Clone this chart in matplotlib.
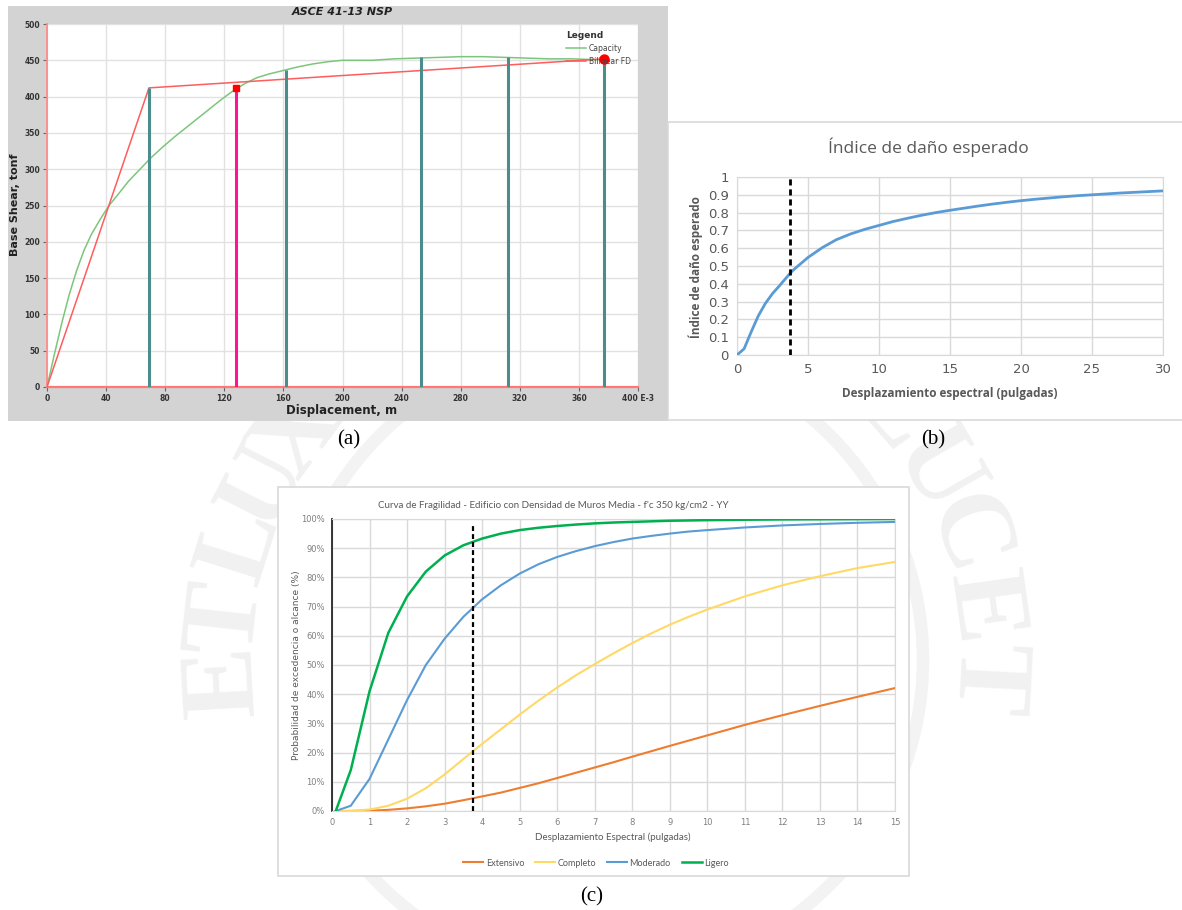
import matplotlib
matplotlib.use("Agg")
import matplotlib.pyplot as plt
from matplotlib.patches import Rectangle, Circle
import numpy as np

# ---------------- data ----------------
# (a) pushover: capacity curve, bilinear idealisation, performance markers
cap_x = [0, 5, 10, 15, 20, 25, 30, 36, 42, 48, 55, 62, 70, 78, 86, 94, 102, 110, 118, 126,
         134, 142, 150, 160, 170, 180, 190, 200, 210, 220, 235, 250, 265, 280, 295, 310,
         325, 340, 355, 370, 377]
cap_y = [0, 45, 88, 127, 160, 188, 210, 231, 250, 265, 283, 298, 315, 330, 344, 357, 370,
         383, 396, 408, 418, 426, 431, 436, 441, 445, 448, 450, 450, 450, 452, 453, 454,
         455, 455, 454, 453, 452, 452, 451, 451]
bil_x = [0, 69, 377]
bil_y = [0, 412, 452]
step_x = [69, 162, 253, 312, 377]
step_y = [412, 437, 454, 455, 452]
perf_x = 128
perf_y = 412
target_x = 377
target_y = 452
a_xticks = [0, 40, 80, 120, 160, 200, 240, 280, 320, 360, 400]
a_xlabels = ["0", "40", "80", "120", "160", "200", "240", "280", "320", "360", "400 E-3"]
a_yticks = [0, 50, 100, 150, 200, 250, 300, 350, 400, 450, 500]

# (b) expected damage index
b_x = [0, 0.5, 1, 1.5, 2, 2.5, 3, 3.75, 4, 5, 6, 7, 8, 9, 10, 11, 12, 13, 14, 15,
       16, 17, 18, 19, 20, 21, 22, 23, 24, 25, 26, 27, 28, 29, 30]
b_y = [0, 0.035, 0.13, 0.22, 0.29, 0.345, 0.39, 0.46, 0.48, 0.548, 0.603, 0.648, 0.68,
       0.706, 0.728, 0.75, 0.768, 0.785, 0.8, 0.813, 0.825, 0.837, 0.848, 0.858, 0.867,
       0.875, 0.882, 0.889, 0.895, 0.9, 0.905, 0.91, 0.914, 0.918, 0.922]
b_yticks = [0, 0.1, 0.2, 0.3, 0.4, 0.5, 0.6, 0.7, 0.8, 0.9, 1]
b_ylabels = ["0", "0.1", "0.2", "0.3", "0.4", "0.5", "0.6", "0.7", "0.8", "0.9", "1"]
b_xticks = [0, 5, 10, 15, 20, 25, 30]
demand_sd = 3.75

# (c) fragility curves (probability of exceedance, %)
ext_x = [0.1, 0.5, 1, 1.5, 2, 2.5, 3, 3.5, 4, 4.5, 5, 5.5, 6, 6.5, 7, 7.5, 8, 9, 10, 11, 12, 13, 14, 15]
ext_y = [0, 0, 0.1, 0.4, 0.9, 1.6, 2.5, 3.7, 5, 6.3, 7.9, 9.5, 11.3, 13.1, 14.9, 16.7, 18.6,
         22.3, 25.9, 29.5, 32.8, 36, 39.1, 42.1]
com_x = [0.1, 0.5, 1, 1.5, 2, 2.5, 3, 3.5, 4, 4.5, 5, 5.5, 6, 6.5, 7, 7.5, 8, 8.5, 9, 9.5, 10, 11, 12, 13, 14, 15]
com_y = [0, 0.1, 0.5, 1.8, 4.2, 7.8, 12.5, 17.8, 23, 28, 33, 37.8, 42.3, 46.5, 50.3, 54, 57.5,
         60.8, 63.8, 66.5, 69, 73.5, 77.3, 80.4, 83.2, 85.3]
mod_x = [0.1, 0.5, 1, 1.5, 2, 2.5, 3, 3.5, 4, 4.5, 5, 5.5, 6, 6.5, 7, 7.5, 8, 8.5, 9, 9.5, 10, 11, 12, 13, 14, 15]
mod_y = [0, 1.8, 11, 24.5, 38, 50, 59, 66.5, 72.5, 77.3, 81.3, 84.5, 87, 89, 90.7, 92.1, 93.3,
         94.2, 95, 95.7, 96.2, 97.1, 97.8, 98.3, 98.7, 99]
lig_x = [0.1, 0.5, 1, 1.5, 2, 2.5, 3, 3.5, 4, 4.5, 5, 5.5, 6, 6.5, 7, 7.5, 8, 9, 10, 11, 12, 13, 14, 15]
lig_y = [0, 14, 41, 61, 73.5, 82, 87.5, 91, 93.3, 95, 96.2, 97, 97.6, 98.1, 98.5, 98.8, 99,
         99.4, 99.6, 99.75, 99.85, 99.9, 99.95, 100]
c_yticks = list(range(0, 101, 10))
c_ylabels = [f"{v}%" for v in c_yticks]
c_xticks = list(range(0, 16))

# seal lettering in the background
seal_words = ["ET", "LUX", "IN", "TENEBRIS", "LUCET"]
seal_centres = [178.5, 153, 122, 80, 19]   # degrees
seal_step = [9.5, 9.5, 9.5, 9.5, 11]

# ---------------- figure ----------------
W, H = 1182, 910
fig = plt.figure(figsize=(W / 100, H / 100), dpi=100)


def box(l, t, r, b):
    return [l / W, 1 - b / H, (r - l) / W, (b - t) / H]


def fx(x):
    return x / W


def fy(y):
    return 1 - y / H


# background layer in pixel coordinates (y downwards)
bg = fig.add_axes([0, 0, 1, 1], zorder=-10)
bg.set_xlim(0, W)
bg.set_ylim(H, 0)
bg.axis("off")

cx, cy, rad = 605, 660, 380
wm = "#f1f1f1"
for word, cen, step in zip(seal_words, seal_centres, seal_step):
    n = len(word)
    for i, ch in enumerate(word):
        ang = cen + (n - 1) / 2 * step - i * step
        t = np.radians(ang)
        bg.text(cx + rad * np.cos(t), cy - rad * np.sin(t), ch, rotation=ang - 90,
                ha="center", va="center", fontsize=78, color=wm, fontweight="bold",
                family="Liberation Serif", zorder=1)
bg.add_patch(Circle((cx, cy), 318, fill=False, ec="#f3f3f3", lw=9, zorder=1))

bg.add_patch(Rectangle((8, 6), 660, 415, fc="#d3d3d3", ec="none", zorder=2))
bg.add_patch(Rectangle((668, 122), 520, 298, fc="white", ec="#d9d9d9", lw=1.2, zorder=2))
bg.add_patch(Rectangle((278, 487), 631, 389, fc="white", ec="#d9d9d9", lw=1.2, zorder=2))

# ---------------- (a) pushover ----------------
axa = fig.add_axes(box(47, 24, 638, 387))
axa.set_facecolor("white")
axa.set_xlim(0, 400)
axa.set_ylim(0, 500)
axa.grid(True, color="#e2e2e2", lw=1)
axa.set_axisbelow(True)
axa.plot(cap_x, cap_y, color="#7cc67c", lw=1.1, label="Capacity", zorder=3)
axa.plot(bil_x, bil_y, color="#ff5c5c", lw=1.1, label="Bilinear FD", zorder=3)
axa.vlines(step_x, 0, step_y, colors="#4b8c8c", lw=2.2, zorder=4)
axa.vlines(perf_x, 0, perf_y, colors="#ff1493", lw=2.2, zorder=4)
axa.plot([perf_x], [perf_y], "s", color="red", ms=4, zorder=5)
axa.plot([target_x], [target_y], "o", color="red", ms=6.5, zorder=5)
axa.set_xticks(a_xticks)
axa.set_xticklabels(a_xlabels)
axa.set_yticks(a_yticks)
axa.tick_params(labelsize=5.5, labelcolor="#333333", length=3, width=0.8, color="#666666", pad=2)
for lab in axa.get_xticklabels() + axa.get_yticklabels():
    lab.set_fontweight("bold")
for s in ("top", "right"):
    axa.spines[s].set_visible(False)
axa.spines["left"].set_color("#ff8a8a")
axa.spines["left"].set_linewidth(1.3)
axa.spines["bottom"].set_color("#ff7777")
axa.spines["bottom"].set_linewidth(1.6)
leg = axa.legend(loc="upper right", bbox_to_anchor=(1.0, 1.0), title="Legend", frameon=False,
                 fontsize=5.5, handlelength=2.6, handletextpad=0.4, labelspacing=0.5,
                 alignment="left")
leg.get_title().set_fontweight("bold")
leg.get_title().set_fontsize(6.5)
leg.get_title().set_color("#333333")
for txt in leg.get_texts():
    txt.set_color("#444444")

fig.text(fx(342), fy(12), "ASCE 41-13 NSP", ha="center", va="center", fontsize=8,
         fontweight="bold", fontstyle="italic", color="#222222")
fig.text(fx(342), fy(411), "Displacement, m", ha="center", va="center", fontsize=8.5,
         fontweight="bold", color="#222222")
fig.text(fx(15), fy(205), "Base Shear, tonf", ha="center", va="center", rotation=90,
         fontsize=8, fontweight="bold", color="#222222")

# ---------------- (b) damage index ----------------
grey = "#595959"
axb = fig.add_axes(box(737, 177, 1163, 355))
axb.set_xlim(0, 30)
axb.set_ylim(0, 1)
axb.grid(True, color="#d9d9d9", lw=1)
axb.set_axisbelow(True)
axb.plot(b_x, b_y, color="#5b9bd5", lw=2, zorder=3)
axb.vlines(demand_sd, 0, 1.0, colors="black", linestyles=(0, (2.2, 1.4)), lw=2, zorder=4)
axb.set_xticks(b_xticks)
axb.set_yticks(b_yticks)
axb.set_yticklabels(b_ylabels)
axb.tick_params(length=0, labelsize=9.5, labelcolor=grey, pad=6)
for s in axb.spines.values():
    s.set_color("#d9d9d9")
fig.text(fx(928), fy(147), "Índice de daño esperado", ha="center", va="center",
         fontsize=12.5, color=grey, family="Open Sans")
fig.text(fx(950), fy(394), "Desplazamiento espectral (pulgadas)", ha="center", va="center",
         fontsize=8.5, fontweight="bold", color=grey, family="Open Sans")
fig.text(fx(696), fy(267), "Índice de daño esperado", ha="center", va="center", rotation=90,
         fontsize=8.5, fontweight="bold", color=grey, family="Open Sans")

# ---------------- (c) fragility curves ----------------
axc = fig.add_axes(box(332, 519, 895, 811))
axc.set_xlim(0, 15)
axc.set_ylim(0, 100)
axc.grid(True, color="#d9d9d9", lw=1)
axc.set_axisbelow(True)
axc.plot(ext_x, ext_y, color="#ed7d31", lw=1.5, label="Extensivo", zorder=3)
axc.plot(com_x, com_y, color="#ffd966", lw=1.5, label="Completo", zorder=3)
axc.plot(mod_x, mod_y, color="#5b9bd5", lw=1.5, label="Moderado", zorder=3)
axc.plot(lig_x, lig_y, color="#00b050", lw=1.8, label="Ligero", zorder=3)
axc.vlines(demand_sd, 0, 98.6, colors="black", linestyles=(0, (2.2, 1.4)), lw=1.6, zorder=4)
axc.set_xticks(c_xticks)
axc.set_yticks(c_yticks)
axc.set_yticklabels(c_ylabels)
axc.tick_params(length=0, labelsize=6, labelcolor="#7f7f7f", pad=5)
for s in axc.spines.values():
    s.set_color("#d9d9d9")
axc.spines["left"].set_color("#262626")
axc.spines["left"].set_linewidth(1.3)
fig.text(fx(553), fy(506), "Curva de Fragilidad - Edificio con Densidad de Muros Media - f'c 350 kg/cm2 - YY",
         ha="center", va="center", fontsize=7, color=grey, family="Lato")
fig.text(fx(613), fy(837), "Desplazamiento Espectral (pulgadas)", ha="center", va="center",
         fontsize=7, color=grey, family="Lato")
fig.text(fx(296), fy(665), "Probabilidad de excedencia o alcance (%)", ha="center", va="center",
         rotation=90, fontsize=6.5, color=grey)
axc.legend(loc="center", bbox_to_anchor=((596 - 332) / 563, (811 - 863) / 292), ncol=4,
           frameon=False, handlelength=2.2, handletextpad=0.3, columnspacing=1.2,
           labelcolor=grey, prop={"family": "Lato", "size": 6.5})

# panel letters
for lbl, x, y in (("(a)", 349, 440), ("(b)", 933, 440), ("(c)", 592, 897)):
    fig.text(fx(x), fy(y), lbl, ha="center", va="center", fontsize=15,
             family="Liberation Serif", color="black")

fig.savefig("out.png", dpi=100)
